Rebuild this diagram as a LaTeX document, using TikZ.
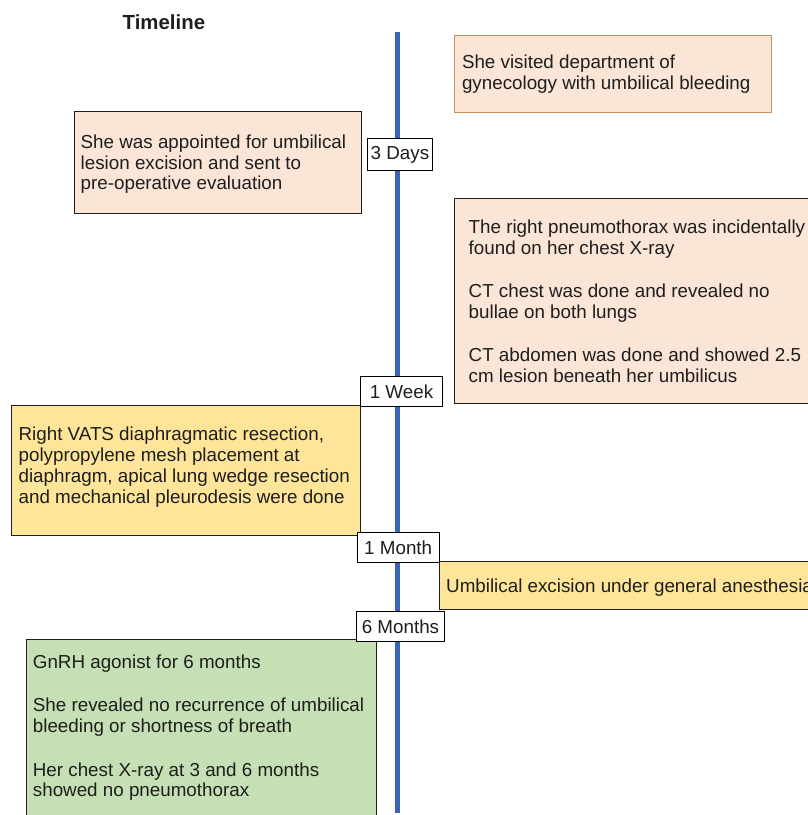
\documentclass[tikz,border=0pt]{standalone}
\usepackage{fontspec}
\setmainfont{Liberation Sans}
\usetikzlibrary{calc}
\definecolor{peach}{RGB}{251,229,214}
\definecolor{gold}{RGB}{254,229,153}
\definecolor{sage}{RGB}{197,224,180}
\definecolor{tan}{RGB}{200,146,92}
\definecolor{lineblue}{RGB}{59,100,181}
\definecolor{ink}{RGB}{30,30,30}
\newcommand{\evtfont}{\fontsize{18.8}{20.8}\selectfont}
\tikzset{
  evt/.style={draw=ink, line width=1pt, anchor=north west, inner sep=0pt, outer sep=0pt},
  txt/.style={anchor=north west, inner sep=0pt, align=left, font=\evtfont, text=ink},
  tickbox/.style={draw=black, fill=white, line width=1pt, inner sep=0pt, font=\evtfont, text=ink},
  timeline/.style={draw=lineblue, line width=5pt}
}
\begin{document}
\begin{tikzpicture}[x=1pt,y=-1pt]
\clip (0,0) rectangle (808,815);
\fill[white] (0,0) rectangle (808,815);
% title
\node[anchor=base west, inner sep=0pt, font=\fontsize{20.4}{22}\selectfont\bfseries, text=ink] (title) at (122.5,29) {Timeline};
% timeline
\coordinate (ltop) at (397.8,32);
\coordinate (lbot) at (397.8,813);
\draw[timeline] (ltop) -- (lbot);
% event boxes
\node[evt, draw=tan, fill=peach, minimum width=317pt, minimum height=76.6pt] (e1) at (454,35.7) {};
\node[txt] (t1) at ($(e1.north west)+(7.8,18.4)$) {\strut She visited department of\\gynecology with umbilical bleeding};
\node[evt, fill=peach, minimum width=287.5pt, minimum height=102pt] (e2) at (74,111) {};
\node[txt] (t2) at ($(e2.north west)+(6.5,22.5)$) {\strut She was appointed for umbilical\\lesion excision and sent to\\pre-operative evaluation};
\node[evt, fill=peach, minimum width=380pt, minimum height=204.7pt] (e3) at (454,198.3) {};
\node[txt] (t3) at ($(e3.north west)+(14.5,20.2)$) {\strut The right pneumothorax was incidentally\\found on her chest X-ray\\[22.6pt]CT chest was done and revealed no\\bullae on both lungs\\[22.6pt]CT abdomen was done and showed 2.5\\cm lesion beneath her umbilicus};
\node[evt, fill=gold, minimum width=349.5pt, minimum height=129.3pt] (e4) at (11.2,405.7) {};
\node[txt] (t4) at ($(e4.north west)+(7.2,20.4)$) {\strut Right VATS diaphragmatic resection,\\polypropylene mesh placement at\\diaphragm, apical lung wedge resection\\and mechanical pleurodesis were done};
\node[evt, fill=gold, minimum width=400pt, minimum height=48pt] (e5) at (439,561) {};
\node[txt] (t5) at ($(e5.north west)+(7,17.1)$) {\strut Umbilical excision under general anesthesia};
\node[evt, fill=sage, minimum width=349.3pt, minimum height=200pt] (e6) at (26.7,639.5) {};
\node[txt] (t6) at ($(e6.north west)+(6,14.2)$) {\strut GnRH agonist for 6 months\\[22.6pt]She revealed no recurrence of umbilical\\bleeding or shortness of breath\\[22.6pt]Her chest X-ray at 3 and 6 months\\showed no pneumothorax};
% tick labels
\node[tickbox, minimum width=65.4pt, minimum height=32.4pt] (d3) at (400,154.5) {3 Days};
\node[tickbox, minimum width=81.6pt, minimum height=30pt] (w1) at (401.5,391.7) {1 Week};
\node[tickbox, minimum width=81.7pt, minimum height=30pt] (m1) at (398.2,547.7) {1 Month};
\node[tickbox, minimum width=87.6pt, minimum height=30.4pt] (m6) at (400.5,626.5) {6 Months};
\end{tikzpicture}
\end{document}
